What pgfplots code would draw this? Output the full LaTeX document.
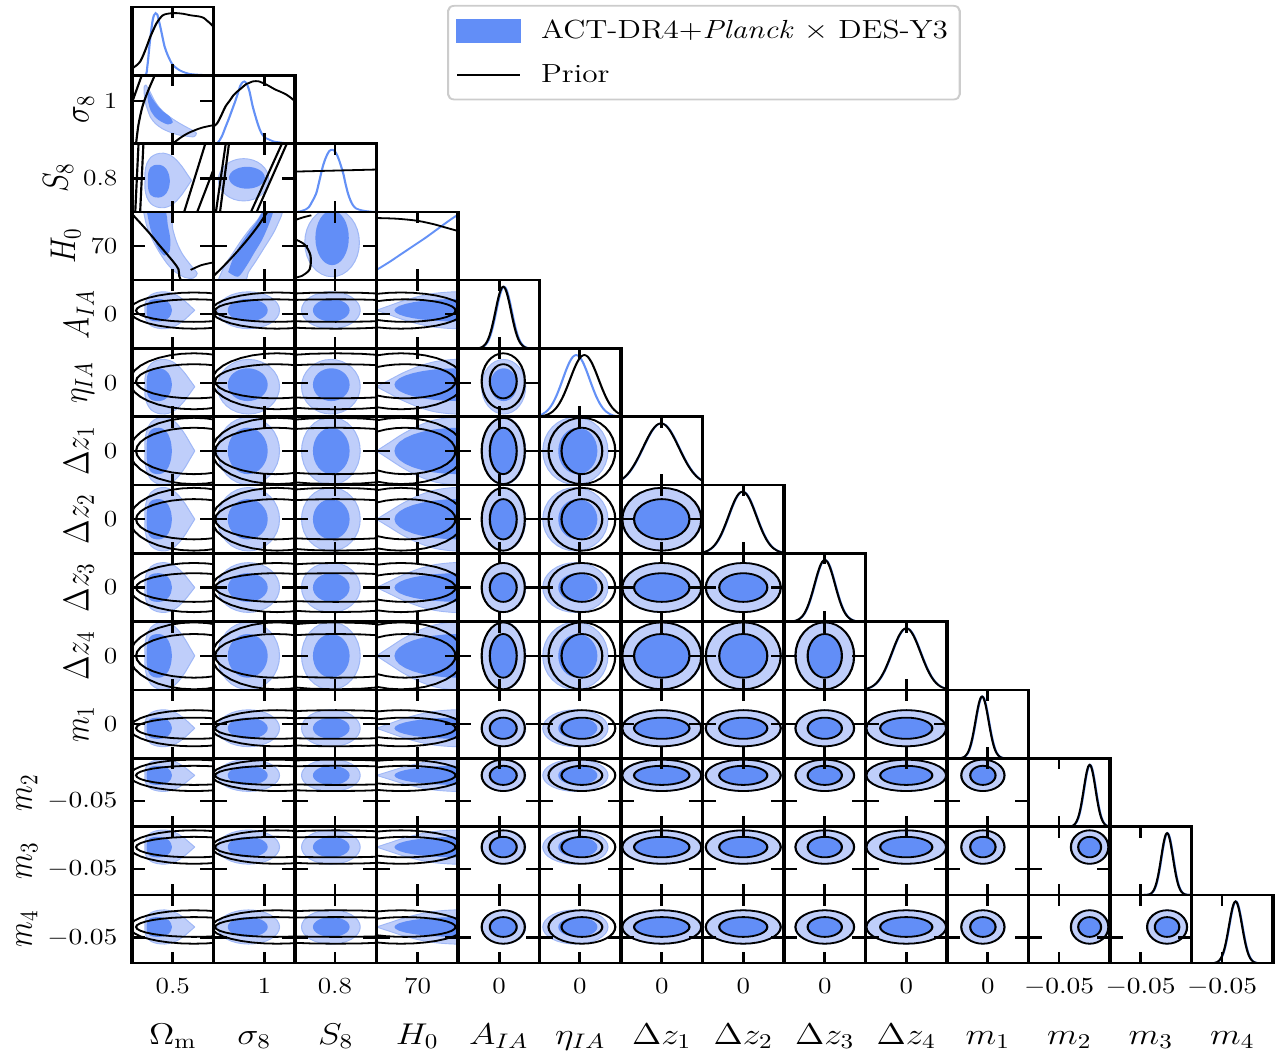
\RequirePackage{fix-cm}
\documentclass[border=0pt]{standalone}
\usepackage{graphicx}
\usepackage{pgfplots}
\usepackage{pgfplotstable}
\pgfplotsset{compat=1.18}
\definecolor{darkb}{RGB}{98,142,247}
\definecolor{lightb}{RGB}{191,206,250}
\definecolor{lightedge}{RGB}{160,184,246}
\definecolor{lineb}{RGB}{100,145,246}

% unit shapes
\pgfplotstableread{
x y
1 0
0.9808 0.1951
0.9239 0.3827
0.8315 0.5556
0.7071 0.7071
0.5556 0.8315
0.3827 0.9239
0.1951 0.9808
0 1
-0.1951 0.9808
-0.3827 0.9239
-0.5556 0.8315
-0.7071 0.7071
-0.8315 0.5556
-0.9239 0.3827
-0.9808 0.1951
-1 0
-0.9808 -0.1951
-0.9239 -0.3827
-0.8315 -0.5556
-0.7071 -0.7071
-0.5556 -0.8315
-0.3827 -0.9239
-0.1951 -0.9808
0 -1
0.1951 -0.9808
0.3827 -0.9239
0.5556 -0.8315
0.7071 -0.7071
0.8315 -0.5556
0.9239 -0.3827
0.9808 -0.1951
1 0
}\ucirc
\pgfplotstableread{
x y
1 0
0.8 0.25
0.6 0.5
0.35 0.75
0.1 0.92
-0.2 1
-0.5 0.97
-0.75 0.85
-0.92 0.62
-1 0.32
-1 0
-1 -0.32
-0.92 -0.62
-0.75 -0.85
-0.5 -0.97
-0.2 -1
0.1 -0.92
0.35 -0.75
0.6 -0.5
0.8 -0.25
1 0
}\utear
\pgfplotstableread{
x y
1 0
0.92 0.38
0.71 0.71
0.38 0.92
0 1
-0.45 0.97
-0.75 0.85
-0.93 0.6
-1 0.3
-1 0
-1 -0.3
-0.93 -0.6
-0.75 -0.85
-0.45 -0.97
0 -1
0.38 -0.92
0.71 -0.71
0.92 -0.38
1 0
}\uD
\pgfplotstableread{
u g
-4 0.0003
-3.75 0.0009
-3.5 0.0022
-3.25 0.0051
-3 0.0111
-2.75 0.0228
-2.5 0.0439
-2.25 0.0796
-2 0.1353
-1.75 0.2163
-1.5 0.3247
-1.25 0.4578
-1 0.6065
-0.75 0.7548
-0.5 0.8825
-0.25 0.9692
0 1
0.25 0.9692
0.5 0.8825
0.75 0.7548
1 0.6065
1.25 0.4578
1.5 0.3247
1.75 0.2163
2 0.1353
2.25 0.0796
2.5 0.0439
2.75 0.0228
3 0.0111
3.25 0.0051
3.5 0.0022
3.75 0.0009
4 0.0003
}\ugauss

% tick positions (fraction of each panel)
\expandafter\def\csname tx0\endcsname{0.50}
\expandafter\def\csname tx1\endcsname{0.625}
\expandafter\def\csname tx2\endcsname{0.49}
\expandafter\def\csname tx3\endcsname{0.505}
\expandafter\def\csname tx4\endcsname{0.505}
\expandafter\def\csname tx5\endcsname{0.495}
\expandafter\def\csname tx6\endcsname{0.50}
\expandafter\def\csname tx7\endcsname{0.50}
\expandafter\def\csname tx8\endcsname{0.50}
\expandafter\def\csname tx9\endcsname{0.50}
\expandafter\def\csname tx10\endcsname{0.50}
\expandafter\def\csname tx11\endcsname{0.375}
\expandafter\def\csname tx12\endcsname{0.375}
\expandafter\def\csname tx13\endcsname{0.375}

% parameter contours: idx, blue light centre, blue dark centre, blue inner, blue outer, prior centre, prior inner, prior outer
\newcommand\defp[8]{%
 \expandafter\def\csname bcl#1\endcsname{#2}%
 \expandafter\def\csname bcd#1\endcsname{#3}%
 \expandafter\def\csname bi#1\endcsname{#4}%
 \expandafter\def\csname bo#1\endcsname{#5}%
 \expandafter\def\csname kc#1\endcsname{#6}%
 \expandafter\def\csname ki#1\endcsname{#7}%
 \expandafter\def\csname ko#1\endcsname{#8}}
\defp{4}{0.56}{0.56}{0.165}{0.27}{0.555}{0.165}{0.265}
\defp{5}{0.44}{0.47}{0.24}{0.40}{0.52}{0.25}{0.41}
\defp{6}{0.50}{0.50}{0.34}{0.495}{0.50}{0.34}{0.485}
\defp{7}{0.50}{0.50}{0.295}{0.465}{0.50}{0.295}{0.46}
\defp{8}{0.50}{0.50}{0.21}{0.365}{0.50}{0.21}{0.36}
\defp{9}{0.50}{0.50}{0.32}{0.495}{0.50}{0.32}{0.49}
\defp{10}{0.44}{0.44}{0.155}{0.27}{0.44}{0.155}{0.265}
\defp{11}{0.75}{0.75}{0.14}{0.235}{0.75}{0.14}{0.23}
\defp{12}{0.70}{0.70}{0.15}{0.25}{0.70}{0.15}{0.245}
\defp{13}{0.53}{0.53}{0.145}{0.25}{0.53}{0.145}{0.245}

\pgfplotsset{
 LF/.style={fill=lightb, draw=lightedge, line width=0.45pt},
 DF/.style={fill=darkb, draw=none},
 LFs/.style={LF, smooth},
 DFs/.style={DF, smooth},
 BL/.style={draw=black, line width=0.9pt, fill=none},
 BLs/.style={BL, smooth},
 Gb/.style={draw=lineb, line width=0.9pt, smooth},
 Gk/.style={draw=black, line width=0.9pt, smooth},
 cell/.style={scale only axis, width=34.15pt, height=34.15pt,
   xmin=0, xmax=1, ymin=0, ymax=1, anchor=south west, axis on top,
   axis line style={line width=1.3pt, black},
   tick style={line width=1.15pt, black}, major tick length=5.5pt,
   tick align=inside, tick pos=both,
   xticklabels={}, yticklabels={},
   tick label style={font=\fontsize{11.5}{14}\selectfont},
   xticklabel style={anchor=base, inner sep=0pt, yshift=-15pt},
   yticklabel style={anchor=east, inner sep=0pt, xshift=-5.9pt},
   label style={font=\fontsize{15}{18}\selectfont},
   xlabel style={at={(axis description cs:0.5,0)}, anchor=base, inner sep=0pt, yshift=-40.5pt},
   ylabel style={inner sep=4pt}},
 cellP/.style 2 args={cell,
   at={({55.31pt+#2*34.15pt},{527pt-(#1+1)*34.15pt})},
   xtick/.expanded={\csname tx#2\endcsname},
   ytick/.expanded={\csname tx#1\endcsname},
   lab#1-#2/.try},
 cellD/.style={cellP={#1}{#1}, ytick=\empty},
 lab1-0/.style={yticklabels={1}, ylabel={$\sigma_8$}},
 lab2-0/.style={yticklabels={0.8}, ylabel={$S_8$}},
 lab3-0/.style={yticklabels={70}, ylabel={$H_0$}},
 lab4-0/.style={yticklabels={0}, ylabel={$A_{IA}$}},
 lab5-0/.style={yticklabels={0}, ylabel={$\eta_{IA}$}},
 lab6-0/.style={yticklabels={0}, ylabel={$\Delta z_1$}},
 lab7-0/.style={yticklabels={0}, ylabel={$\Delta z_2$}},
 lab8-0/.style={yticklabels={0}, ylabel={$\Delta z_3$}},
 lab9-0/.style={yticklabels={0}, ylabel={$\Delta z_4$}},
 lab10-0/.style={yticklabels={0}, ylabel={$m_1$}},
 lab11-0/.style={yticklabels={$-0.05$}, ylabel={$m_2$}},
 lab12-0/.style={yticklabels={$-0.05$}, ylabel={$m_3$}},
 lab13-0/.style={yticklabels={$-0.05$}, ylabel={$m_4$}, xticklabels={0.5}, xlabel={$\Omega_{\rm m}$}},
 lab13-1/.style={xticklabels={1}, xlabel={$\sigma_8$}},
 lab13-2/.style={xticklabels={0.8}, xlabel={$S_8$}},
 lab13-3/.style={xticklabels={70}, xlabel={$H_0$}},
 lab13-4/.style={xticklabels={0}, xlabel={$A_{IA}$}},
 lab13-5/.style={xticklabels={0}, xlabel={$\eta_{IA}$}},
 lab13-6/.style={xticklabels={0}, xlabel={$\Delta z_1$}},
 lab13-7/.style={xticklabels={0}, xlabel={$\Delta z_2$}},
 lab13-8/.style={xticklabels={0}, xlabel={$\Delta z_3$}},
 lab13-9/.style={xticklabels={0}, xlabel={$\Delta z_4$}},
 lab13-10/.style={xticklabels={0}, xlabel={$m_1$}},
 lab13-11/.style={xticklabels={$-0.05$}, xlabel={$m_2$}},
 lab13-12/.style={xticklabels={$-0.05$}, xlabel={$m_3$}},
 lab13-13/.style={xticklabels={$-0.05$}, xlabel={$m_4$}},
}

% shape from a unit table: table, cx, cy, rx, ry, style
\newcommand\Shape[6]{\edef\tmp{\noexpand\addplot[#6] table[x expr={#2+(#4)*\noexpand\thisrow{x}}, y expr={#3+(#5)*\noexpand\thisrow{y}}]{\noexpand#1};}\tmp}
% 1D profile: mean, width, style
\newcommand\G[3]{\edef\tmp{\noexpand\addplot[#3] table[x expr={#1+(#2)*\noexpand\thisrow{u}}, y expr={0.905*\noexpand\thisrow{g}}]{\noexpand\ugauss};}\tmp}

\newcommand\NNcell[2]{\begin{axis}[cellP={#1}{#2}]
 \Shape\ucirc{\csname bcl#2\endcsname}{\csname bcl#1\endcsname}{\csname bo#2\endcsname}{\csname bo#1\endcsname}{LF}
 \Shape\ucirc{\csname bcd#2\endcsname}{\csname bcd#1\endcsname}{\csname bi#2\endcsname}{\csname bi#1\endcsname}{DF}
 \Shape\ucirc{\csname kc#2\endcsname}{\csname kc#1\endcsname}{\csname ko#2\endcsname}{\csname ko#1\endcsname}{BL}
 \Shape\ucirc{\csname kc#2\endcsname}{\csname kc#1\endcsname}{\csname ki#2\endcsname}{\csname ki#1\endcsname}{BL}
 \end{axis}}
\newcommand\COcell[1]{\begin{axis}[cellP={#1}{0}]
 \Shape\utear{0.465}{\csname bcl#1\endcsname}{0.305}{\csname bo#1\endcsname}{LFs}
 \Shape\uD{0.335}{\csname bcd#1\endcsname}{0.155}{\csname bi#1\endcsname}{DFs}
 \Shape\ucirc{0.76}{\csname kc#1\endcsname}{0.79}{\csname ko#1\endcsname}{BL}
 \Shape\ucirc{0.76}{\csname kc#1\endcsname}{0.71}{\csname ki#1\endcsname}{BL}
 \end{axis}}
\newcommand\CScell[1]{\begin{axis}[cellP={#1}{1}]
 \Shape\ucirc{0.43}{\csname bcl#1\endcsname}{0.38}{\csname bo#1\endcsname}{LF}
 \Shape\ucirc{0.42}{\csname bcd#1\endcsname}{0.245}{\csname bi#1\endcsname}{DF}
 \Shape\ucirc{0.78}{\csname kc#1\endcsname}{0.80}{\csname ko#1\endcsname}{BL}
 \Shape\ucirc{0.76}{\csname kc#1\endcsname}{0.74}{\csname ki#1\endcsname}{BL}
 \end{axis}}
\newcommand\CEcell[1]{\begin{axis}[cellP={#1}{2}]
 \Shape\ucirc{0.44}{\csname bcl#1\endcsname}{0.36}{\csname bo#1\endcsname}{LF}
 \Shape\ucirc{0.445}{\csname bcd#1\endcsname}{0.225}{\csname bi#1\endcsname}{DF}
 \Shape\ucirc{0.5}{\csname kc#1\endcsname}{1.6}{\csname ki#1\endcsname}{BL}
 \Shape\ucirc{0.5}{\csname kc#1\endcsname}{1.6}{\csname ko#1\endcsname}{BL}
 \end{axis}}
\newcommand\CHcell[1]{\begin{axis}[cellP={#1}{3}]
 \Shape\utear{0.80}{\csname bcl#1\endcsname}{-0.80}{\csname bo#1\endcsname}{LFs}
 \Shape\ucirc{1.0}{\csname bcd#1\endcsname}{0.78}{\csname bi#1\endcsname}{DF}
 \Shape\ucirc{0.30}{\csname kc#1\endcsname}{0.78}{\csname ko#1\endcsname}{BL}
 \Shape\ucirc{0.35}{\csname kc#1\endcsname}{0.62}{\csname ki#1\endcsname}{BL}
 \end{axis}}
\newcommand\Dcell[5]{\begin{axis}[cellD=#1]\G{#2}{#3}{Gb}\G{#4}{#5}{Gk}\end{axis}}
\newcommand\Crow[1]{\COcell{#1}\CScell{#1}\CEcell{#1}\CHcell{#1}}

\begin{document}
\scalebox{1.1933}[1]{%
\begin{tikzpicture}
\useasboundingbox (0,0) rectangle (535.5pt,530.5pt);

% ---------- row 0 : Omega_m ----------
\begin{axis}[cellD=0,
  legend style={at={(3.865,1.03)}, anchor=north west, draw=black!20, line width=0.9pt,
    rounded corners=2.5pt, fill=white, font=\fontsize{13.1}{15.5}\selectfont,
    inner xsep=3.4pt, inner ysep=5.5pt, row sep=8.5pt, nodes={inner sep=1.5pt},
    /tikz/every odd column/.append style={column sep=6.8pt}},
  legend cell align=left]
\addplot[Gb, forget plot] coordinates {(0,0) (0.16,0) (0.19,0.15) (0.22,0.5) (0.25,0.78) (0.27,0.88) (0.29,0.91) (0.31,0.89) (0.33,0.8) (0.36,0.64) (0.40,0.42) (0.44,0.29) (0.49,0.17) (0.54,0.11) (0.59,0.07) (0.65,0.04) (0.71,0.02) (0.8,0.01) (0.96,0) (1,0)};
\addplot[Gk, forget plot] coordinates {(0,0.10) (0.05,0.14) (0.10,0.20) (0.14,0.30) (0.18,0.42) (0.22,0.55) (0.26,0.66) (0.30,0.76) (0.34,0.83) (0.38,0.88) (0.43,0.90) (0.50,0.91) (0.55,0.91) (0.63,0.90) (0.71,0.88) (0.77,0.87) (0.83,0.86) (0.88,0.84) (0.92,0.80) (0.96,0.76) (1,0.71)};
\addlegendimage{legend image code/.code={\fill[darkb, sharp corners] (0pt,-5.5pt) rectangle (26.4pt,5.5pt);}}
\addlegendentry{ACT-DR4+\textit{Planck} $\times$ DES-Y3}
\addlegendimage{legend image code/.code={\draw[black, line width=0.9pt, sharp corners] (0pt,0pt) -- (26.4pt,0pt);}}
\addlegendentry{Prior}
\end{axis}

% ---------- row 1 : sigma_8 ----------
\begin{axis}[cellP={1}{0}]
\addplot[LFs] coordinates {(0.17,0.86) (0.22,0.76) (0.28,0.62) (0.34,0.52) (0.42,0.43) (0.50,0.36) (0.58,0.30) (0.67,0.24) (0.75,0.19) (0.79,0.15) (0.76,0.10) (0.66,0.11) (0.56,0.13) (0.46,0.17) (0.37,0.22) (0.29,0.29) (0.23,0.38) (0.19,0.50) (0.16,0.62) (0.15,0.74) (0.15,0.83) (0.17,0.86)};
\addplot[DFs] coordinates {(0.20,0.78) (0.25,0.66) (0.31,0.56) (0.38,0.47) (0.46,0.40) (0.50,0.31) (0.44,0.28) (0.36,0.32) (0.29,0.38) (0.23,0.48) (0.20,0.60) (0.19,0.72) (0.20,0.78)};
\addplot[BLs] coordinates {(0,0.60) (0.06,0.80) (0.12,1.0)};
\addplot[BLs] coordinates {(0.05,0) (0.08,0.28) (0.13,0.55) (0.2,0.78) (0.28,1.0)};
\addplot[BLs] coordinates {(0.5,0) (0.6,0.09) (0.7,0.16) (0.85,0.23) (1.0,0.27)};
\end{axis}
\begin{axis}[cellD=1]
\addplot[Gb] coordinates {(0,0) (0.05,0.01) (0.10,0.1) (0.15,0.25) (0.19,0.37) (0.23,0.50) (0.27,0.63) (0.30,0.74) (0.33,0.85) (0.36,0.90) (0.38,0.91) (0.41,0.87) (0.44,0.77) (0.48,0.55) (0.51,0.42) (0.54,0.30) (0.57,0.20) (0.60,0.13) (0.64,0.08) (0.68,0.06) (0.74,0.03) (0.80,0.02) (0.9,0.005) (1,0)};
\addplot[Gk] coordinates {(0,0.25) (0.04,0.29) (0.07,0.35) (0.11,0.45) (0.15,0.55) (0.2,0.63) (0.24,0.70) (0.28,0.75) (0.32,0.79) (0.36,0.83) (0.40,0.87) (0.44,0.89) (0.48,0.91) (0.52,0.915) (0.56,0.91) (0.60,0.89) (0.64,0.87) (0.70,0.83) (0.76,0.79) (0.82,0.76) (0.89,0.72) (0.95,0.67) (1,0.62)};
\end{axis}

% ---------- row 2 : S_8 ----------
\begin{axis}[cellP={2}{0}]
\Shape\utear{0.445}{0.46}{0.285}{0.40}{LFs}
\Shape\uD{0.33}{0.45}{0.135}{0.24}{DFs}
\addplot[BL] coordinates {(0.04,0) (0.08,1)};
\addplot[BL] coordinates {(0.10,0) (0.14,1)};
\addplot[BL] coordinates {(0.64,0) (0.90,1)};
\addplot[BL] coordinates {(0.80,0) (1.0,0.62)};
\end{axis}
\begin{axis}[cellP={2}{1}]
\Shape\ucirc{0.37}{0.47}{0.31}{0.31}{LF}
\Shape\ucirc{0.41}{0.50}{0.22}{0.16}{DF}
\addplot[BL] coordinates {(0.03,0) (0.15,1)};
\addplot[BL] coordinates {(0.08,0) (0.19,1)};
\addplot[BL] coordinates {(0.46,0) (0.84,1)};
\addplot[BL] coordinates {(0.53,0) (0.90,1)};
\end{axis}
\begin{axis}[cellD=2]
\addplot[Gb] coordinates {(0,0) (0.05,0.005) (0.12,0.03) (0.17,0.07) (0.21,0.15) (0.26,0.27) (0.30,0.46) (0.34,0.66) (0.38,0.80) (0.42,0.89) (0.46,0.91) (0.50,0.87) (0.54,0.76) (0.59,0.57) (0.62,0.41) (0.65,0.27) (0.68,0.17) (0.71,0.10) (0.75,0.05) (0.83,0.02) (0.92,0.005) (1,0)};
\addplot[Gk] coordinates {(0,0.59) (1,0.62)};
\end{axis}

% ---------- row 3 : H_0 ----------
\begin{axis}[cellP={3}{0}]
\addplot[LFs] coordinates {(0.14,1.02) (0.46,1.02) (0.50,0.75) (0.55,0.55) (0.62,0.38) (0.72,0.22) (0.80,0.10) (0.75,0.03) (0.65,0.04) (0.52,0.13) (0.42,0.26) (0.32,0.44) (0.24,0.62) (0.18,0.80) (0.14,1.02)};
\addplot[DFs] coordinates {(0.18,1.02) (0.40,1.02) (0.44,0.80) (0.47,0.60) (0.46,0.42) (0.40,0.36) (0.33,0.45) (0.27,0.60) (0.22,0.78) (0.18,1.02)};
\addplot[BLs] coordinates {(0.0,0.97) (0.1,0.84) (0.22,0.68) (0.33,0.52) (0.43,0.38) (0.52,0.25) (0.57,0.16) (0.58,0.06) (0.6,0.0)};
\addplot[BLs] coordinates {(0.72,0.15) (0.85,0.22) (1.0,0.26)};
\end{axis}
\begin{axis}[cellP={3}{1}]
\addplot[LFs] coordinates {(0.05,-0.02) (0.14,0.22) (0.24,0.40) (0.34,0.58) (0.44,0.74) (0.54,0.88) (0.63,1.02) (0.84,1.02) (0.78,0.80) (0.72,0.66) (0.62,0.47) (0.52,0.28) (0.43,0.12) (0.37,-0.02) (0.05,-0.02)};
\addplot[DFs] coordinates {(0.18,0.12) (0.24,0.32) (0.32,0.50) (0.42,0.68) (0.52,0.84) (0.62,1.02) (0.73,1.02) (0.68,0.82) (0.60,0.60) (0.50,0.40) (0.40,0.20) (0.30,0.05) (0.18,0.12)};
\addplot[BLs] coordinates {(0,0.06) (0.2,0.30) (0.4,0.57) (0.55,0.80) (0.66,1.0)};
\end{axis}
\begin{axis}[cellP={3}{2}]
\Shape\ucirc{0.455}{0.55}{0.335}{0.50}{LF}
\Shape\ucirc{0.455}{0.62}{0.205}{0.40}{DF}
\addplot[BLs] coordinates {(0,0.88) (0.1,0.92) (0.2,0.95)};
\addplot[BLs] coordinates {(0,0.60) (0.12,0.52) (0.19,0.36) (0.18,0.16) (0.08,0.06) (0,0.04)};
\end{axis}
\begin{axis}[cellD=3]
\addplot[Gb] coordinates {(0,0.15) (0.15,0.26) (0.3,0.38) (0.45,0.50) (0.6,0.62) (0.75,0.75) (0.9,0.88) (1,0.96)};
\addplot[Gk] coordinates {(0,0.91) (0.25,0.90) (0.5,0.87) (0.7,0.82) (0.85,0.77) (1,0.72)};
\end{axis}

% ---------- row 4 : A_IA ----------
\Crow{4}
\Dcell{4}{0.565}{0.095}{0.555}{0.095}
% ---------- row 5 : eta_IA ----------
\Crow{5}\NNcell{5}{4}
\Dcell{5}{0.45}{0.165}{0.55}{0.175}
% ---------- row 6 ----------
\Crow{6}\NNcell{6}{4}\NNcell{6}{5}
\Dcell{6}{0.495}{0.22}{0.49}{0.22}
% ---------- row 7 ----------
\Crow{7}\NNcell{7}{4}\NNcell{7}{5}\NNcell{7}{6}
\Dcell{7}{0.495}{0.17}{0.49}{0.17}
% ---------- row 8 ----------
\Crow{8}\NNcell{8}{4}\NNcell{8}{5}\NNcell{8}{6}\NNcell{8}{7}
\Dcell{8}{0.505}{0.125}{0.50}{0.125}
% ---------- row 9 ----------
\Crow{9}\NNcell{9}{4}\NNcell{9}{5}\NNcell{9}{6}\NNcell{9}{7}\NNcell{9}{8}
\Dcell{9}{0.505}{0.175}{0.50}{0.175}
% ---------- row 10 ----------
\Crow{10}\NNcell{10}{4}\NNcell{10}{5}\NNcell{10}{6}\NNcell{10}{7}\NNcell{10}{8}\NNcell{10}{9}
\Dcell{10}{0.435}{0.08}{0.43}{0.08}
% ---------- row 11 ----------
\Crow{11}\NNcell{11}{4}\NNcell{11}{5}\NNcell{11}{6}\NNcell{11}{7}\NNcell{11}{8}\NNcell{11}{9}\NNcell{11}{10}
\Dcell{11}{0.755}{0.072}{0.75}{0.072}
% ---------- row 12 ----------
\Crow{12}\NNcell{12}{4}\NNcell{12}{5}\NNcell{12}{6}\NNcell{12}{7}\NNcell{12}{8}\NNcell{12}{9}\NNcell{12}{10}\NNcell{12}{11}
\Dcell{12}{0.705}{0.072}{0.70}{0.072}
% ---------- row 13 ----------
\Crow{13}\NNcell{13}{4}\NNcell{13}{5}\NNcell{13}{6}\NNcell{13}{7}\NNcell{13}{8}\NNcell{13}{9}\NNcell{13}{10}\NNcell{13}{11}\NNcell{13}{12}
\Dcell{13}{0.545}{0.08}{0.54}{0.08}
\end{tikzpicture}}
\end{document}
